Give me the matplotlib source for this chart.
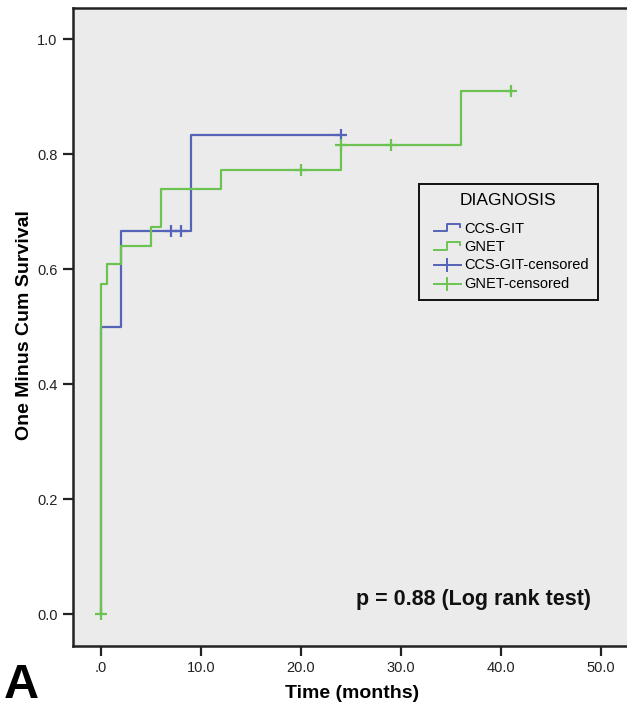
import matplotlib
matplotlib.use("Agg")
import matplotlib.pyplot as plt
from matplotlib.lines import Line2D
from matplotlib.legend_handler import HandlerBase

plt.rcParams['font.family'] = ['Liberation Sans', 'DejaVu Sans']

# ---- data ----
ccs_times = [0, 0, 2, 9, 24]
ccs_vals = [0.0, 0.500, 0.667, 0.833, 0.833]
ccs_cens_t = [7, 8, 24]
ccs_cens_v = [0.667, 0.667, 0.833]

gnet_times = [0, 0, 0.6, 2, 5, 6, 12, 24, 36, 41]
gnet_vals = [0.0, 0.575, 0.609, 0.641, 0.674, 0.739, 0.772, 0.815, 0.909, 0.909]
gnet_cens_t = [0, 20, 24, 29, 41]
gnet_cens_v = [0.0, 0.772, 0.815, 0.815, 0.909]

x_ticks = [0, 10, 20, 30, 40, 50]
x_ticklabels = ['.0', '10.0', '20.0', '30.0', '40.0', '50.0']
y_ticks = [0.0, 0.2, 0.4, 0.6, 0.8, 1.0]
y_ticklabels = ['0.0', '0.2', '0.4', '0.6', '0.8', '1.0']

BLUE = '#5664B8'
GREEN = '#6CC352'
BG = '#EBEBEB'
AX = '#222222'

fig = plt.figure(figsize=(6.27, 7.11), dpi=100)
ax = fig.add_axes([73/627, 65/711, 554/627, 638/711])
ax.set_facecolor(BG)

l_ccs, = ax.step(ccs_times, ccs_vals, where='post', color=BLUE, lw=1.6, zorder=3)
l_gnet, = ax.step(gnet_times, gnet_vals, where='post', color=GREEN, lw=1.6, zorder=4)
c_ccs, = ax.plot(ccs_cens_t, ccs_cens_v, ls='none', marker='+', ms=9, mew=1.6,
                 color=BLUE, zorder=5)
c_gnet, = ax.plot(gnet_cens_t, gnet_cens_v, ls='none', marker='+', ms=9, mew=1.6,
                  color=GREEN, zorder=5)

ax.set_xlim(-2.8, 52.6)
ax.set_ylim(-0.055, 1.054)
ax.set_xticks(x_ticks)
ax.set_xticklabels(x_ticklabels)
ax.set_yticks(y_ticks)
ax.set_yticklabels(y_ticklabels)
ax.tick_params(axis='both', direction='out', length=7, width=1.6, color=AX,
               labelsize=10.5, labelcolor='#222222', pad=4)

for s in ['left', 'bottom', 'top']:
    ax.spines[s].set_linewidth(1.8)
    ax.spines[s].set_color(AX)
ax.spines['right'].set_visible(False)

ax.set_xlabel('Time (months)', fontsize=14, fontweight='bold')
ax.xaxis.set_label_coords((352 - 73) / 554, (646 - 693) / 638)
ax.xaxis.label.set_va('center')
ax.set_ylabel('One Minus Cum Survival', fontsize=14, fontweight='bold')
ax.yaxis.set_label_coords((25 - 73) / 554, (646 - 325) / 638)
ax.yaxis.label.set_va('center')

ax.text((591 - 73) / 554, (646 - 600) / 638, 'p = 0.88 (Log rank test)',
        transform=ax.transAxes, ha='right', va='center', fontsize=15.5,
        fontweight='bold', color='#111111')

fig.text(0.006, 3 / 711, 'A', fontsize=35, fontweight='bold', color='black',
         ha='left', va='bottom')


class KMHandler(HandlerBase):
    def __init__(self, step=True, **kw):
        super().__init__(**kw)
        self.step = step

    def create_artists(self, legend, orig_handle, xdescent, ydescent, width,
                       height, fontsize, trans):
        x0 = -xdescent
        y0 = -ydescent
        xa = x0 + 0.2 * width
        w = 0.8 * width
        if self.step:
            xs = [xa, xa + 0.45 * w, xa + 0.45 * w, xa + 0.95 * w, xa + 0.95 * w]
            ys = [y0 + 0.15 * height, y0 + 0.15 * height, y0 + 0.9 * height,
                  y0 + 0.9 * height, y0 + 0.55 * height]
            ln = Line2D(xs, ys, color=orig_handle.get_color(), lw=1.4)
            ln.set_transform(trans)
            return [ln]
        ym = y0 + 0.4 * height
        ln = Line2D([xa, xa + w], [ym, ym], color=orig_handle.get_color(), lw=1.4)
        ln.set_transform(trans)
        mk = Line2D([xa + 0.45 * w], [ym], color=orig_handle.get_color(),
                    ls='none', marker='+', ms=10, mew=1.4)
        mk.set_transform(trans)
        return [ln, mk]


leg = ax.legend([l_ccs, l_gnet, c_ccs, c_gnet],
                ['CCS-GIT', 'GNET', 'CCS-GIT-censored', 'GNET-censored'],
                handler_map={l_ccs: KMHandler(True), l_gnet: KMHandler(True),
                             c_ccs: KMHandler(False), c_gnet: KMHandler(False)},
                title='DIAGNOSIS', title_fontsize=12.5, fontsize=10.5,
                loc='upper left', bbox_to_anchor=(0.6245, 0.724),
                borderaxespad=0, frameon=True, fancybox=False, framealpha=1,
                facecolor=BG, edgecolor='#111111', numpoints=1,
                handlelength=2.3, handletextpad=0.2, labelspacing=0.3,
                borderpad=0.6)
leg.get_frame().set_linewidth(1.4)
leg._legend_box.sep = 10

fig.savefig('out.png', dpi=100)
